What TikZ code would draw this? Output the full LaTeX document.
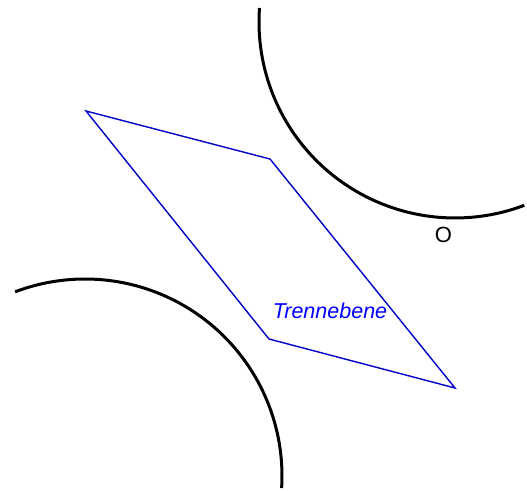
\documentclass[tikz,border=0pt]{standalone}
\usepackage{fontspec}
\setmainfont{Liberation Sans}
\definecolor{planeblue}{RGB}{0,0,200}
\definecolor{textblue}{RGB}{0,0,255}
\begin{document}
\begin{tikzpicture}[x=1pt,y=1pt,
  sphere/.style={line width=3pt,black},
  plane/.style={line width=1.4pt,planeblue,line join=miter},
  lbl/.style={inner sep=0pt,font=\fontsize{22}{26}\selectfont}]
\useasboundingbox (0,0) rectangle (527,490);
% upper sphere
\coordinate (cu) at (455,468);
\draw[sphere] (cu) ++(175.9:196) arc[start angle=175.9,end angle=290.7,radius=196];
% lower sphere
\coordinate (cl) at (85,14);
\draw[sphere] (cl) ++(110.8:197) arc[start angle=110.8,end angle=-3.5,radius=197];
% separating plane
\coordinate (p1) at (86,379);
\coordinate (p2) at (270,331);
\coordinate (p3) at (455,102);
\coordinate (p4) at (269,151);
\draw[plane] (p1) -- (p2) -- (p3) -- (p4) -- cycle;
\node[lbl] (o) at (443.5,255.5) {O};
\node[lbl,textblue,font=\fontsize{21.5}{25}\selectfont\itshape] (t) at (330,179) {Trennebene};
\end{tikzpicture}
\end{document}
